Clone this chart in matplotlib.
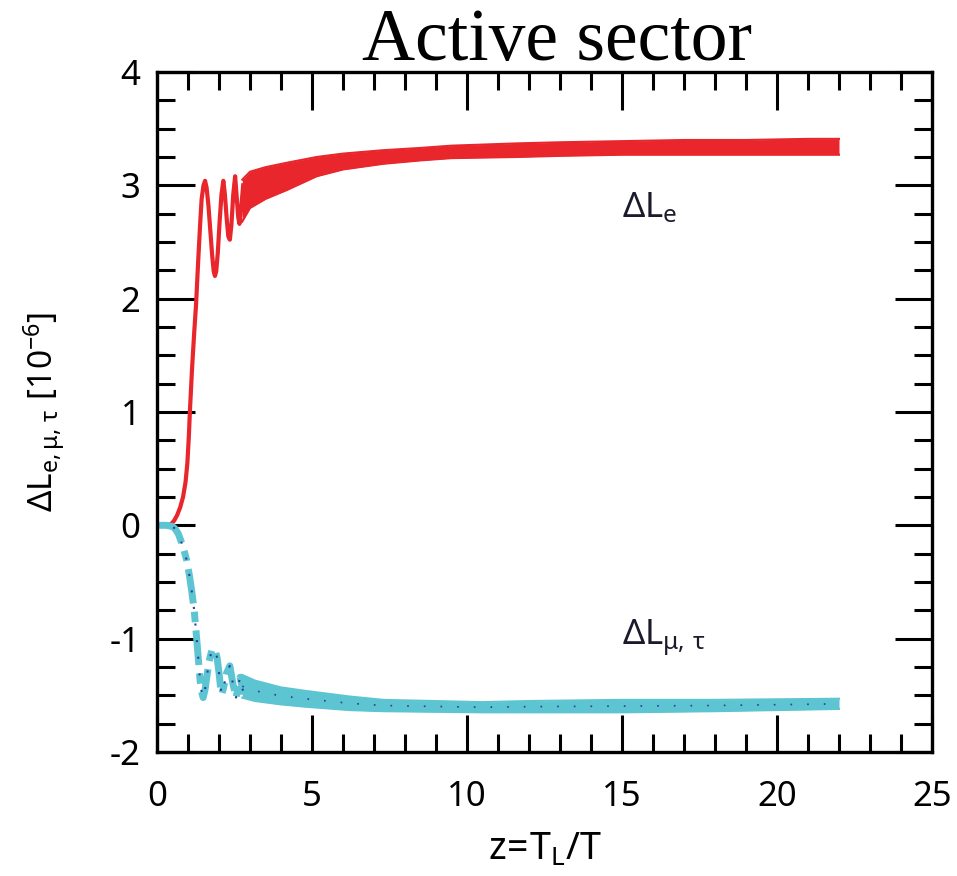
import numpy as np
import matplotlib
matplotlib.use("Agg")
import matplotlib.pyplot as plt
from matplotlib.ticker import MultipleLocator

plt.rcParams['font.family'] = ['Noto Sans', 'DejaVu Sans']
plt.rcParams['mathtext.fontset'] = 'custom'
plt.rcParams['mathtext.rm'] = 'Noto Sans'
plt.rcParams['mathtext.it'] = 'Noto Sans:italic'
plt.rcParams['mathtext.bf'] = 'Noto Sans:bold'
plt.rcParams['axes.unicode_minus'] = False

# Delta L_e : early oscillating part
z_e = [0, 0.3, 0.45, 0.55, 0.65, 0.75, 0.84, 0.92, 0.98, 1.03, 1.06, 1.13, 1.2, 1.26,
       1.33, 1.39, 1.44, 1.5, 1.55, 1.6, 1.66, 1.72, 1.78, 1.83, 1.87, 1.91, 1.96, 2.02,
       2.08, 2.14, 2.19, 2.25, 2.3, 2.35, 2.4, 2.46, 2.52, 2.57, 2.62, 2.66, 2.7, 2.78]
y_e = [0, 0, 0.01, 0.04, 0.09, 0.16, 0.25, 0.38, 0.55, 0.8, 1.0, 1.38, 1.7, 1.95,
       2.34, 2.65, 2.88, 3.0, 3.04, 2.98, 2.82, 2.6, 2.38, 2.24, 2.2, 2.24, 2.4, 2.68,
       2.92, 3.04, 2.92, 2.7, 2.55, 2.52, 2.65, 2.92, 3.08, 2.9, 2.72, 2.66, 2.75, 3.0]
# Delta L_e : noisy band (upper / lower edge)
z_e_band = [2.75, 3.0, 3.5, 4.2, 5.15, 6.0, 7.3, 8.5, 9.5, 11.6, 13.0, 15.0, 17.0, 19.0, 21.0, 22.0]
e_upper = [3.05, 3.12, 3.16, 3.2, 3.25, 3.28, 3.31, 3.33, 3.35, 3.37, 3.38, 3.39, 3.4, 3.4, 3.41, 3.41]
e_lower = [2.68, 2.8, 2.88, 2.96, 3.08, 3.14, 3.19, 3.22, 3.24, 3.25, 3.26, 3.27, 3.27, 3.27, 3.27, 3.27]

# Delta L_mu,tau : early oscillating part
z_mu = [0, 0.3, 0.5, 0.58, 0.68, 0.75, 0.85, 0.96, 1.05, 1.12, 1.2, 1.28, 1.34, 1.39,
        1.44, 1.49, 1.55, 1.61, 1.68, 1.77, 1.87, 1.94, 2.0, 2.05, 2.09, 2.15, 2.25,
        2.35, 2.45, 2.55, 2.62, 2.68, 2.74, 2.8]
y_mu = [0, 0, -0.01, -0.03, -0.07, -0.12, -0.2, -0.31, -0.45, -0.58, -0.75, -1.0, -1.2, -1.37,
        -1.47, -1.52, -1.45, -1.33, -1.2, -1.1, -1.09, -1.17, -1.3, -1.43, -1.49, -1.43, -1.3,
        -1.24, -1.4, -1.52, -1.42, -1.34, -1.42, -1.49]
# Delta L_mu,tau : noisy band
z_mu_band = [2.75, 3.16, 4.0, 4.77, 6.2, 7.3, 10.5, 12.0, 15.0, 18.0, 22.0]
mu_upper = [-1.32, -1.37, -1.43, -1.46, -1.51, -1.54, -1.56, -1.55, -1.54, -1.54, -1.53]
mu_lower = [-1.52, -1.55, -1.58, -1.6, -1.63, -1.64, -1.65, -1.65, -1.65, -1.64, -1.62]

red = '#e8262b'
cyan = '#5dc5d1'
navy = '#2a3d9a'

fig = plt.figure(figsize=(9.57, 8.76), dpi=100)
ax = fig.add_axes([157 / 957, 1 - 752 / 876, 775 / 957, 680 / 876])

# red curve
ax.plot(z_e, y_e, color=red, lw=3)
ax.fill_between(z_e_band, e_lower, e_upper, color=red, lw=0)
ax.plot(z_e_band, e_upper, color=red, lw=1.5)
ax.plot(z_e_band, e_lower, color=red, lw=1.5)

# cyan / navy curves
ax.plot(z_mu, y_mu, color=cyan, lw=5, ls=(0, (5, 1.2, 1.5, 1.2)))
ax.fill_between(z_mu_band, mu_lower, mu_upper, color=cyan, lw=0)
ax.plot(z_mu_band, mu_upper, color=cyan, lw=1.5)
ax.plot(z_mu_band, mu_lower, color=cyan, lw=1.5)
ax.plot(z_mu, y_mu, color=navy, lw=1.5, ls=(0, (1, 7)))
mid = [(a + b) / 2 for a, b in zip(mu_upper, mu_lower)]
ax.plot(z_mu_band, mid, color=navy, lw=1.2, ls=(0, (1, 9)))

ax.text(15.0, 2.72, r'$\mathrm{ΔL_e}$', fontsize=25, color='#1a1a2a', va='baseline')
ax.text(15.0, -1.06, r'$\mathrm{ΔL_{μ,\,τ}}$', fontsize=25, color='#1a1a2a', va='baseline')

ax.set_xlim(0, 25)
ax.set_ylim(-2, 4)
ax.xaxis.set_major_locator(MultipleLocator(5))
ax.xaxis.set_minor_locator(MultipleLocator(1))
ax.yaxis.set_major_locator(MultipleLocator(1))
ax.yaxis.set_minor_locator(MultipleLocator(0.25))
ax.tick_params(which='both', direction='in', top=True, right=True, width=2.2, labelsize=25)
ax.tick_params(which='major', length=27)
ax.tick_params(which='minor', length=13)
ax.tick_params(axis='x', pad=20)
ax.tick_params(axis='y', pad=12)
for s in ax.spines.values():
    s.set_linewidth(2.4)

ax.set_xlabel(r'$\mathrm{z\!=\!T_L/T}$', fontsize=27, labelpad=12)
ax.set_ylabel(r'$\mathrm{ΔL_{e,μ,\,τ}\ [10^{-6}]}$', fontsize=24)
ax.yaxis.set_label_coords(-0.116, 0.5)

fig.text(557 / 957, 1 - 60 / 876, 'Active sector', family='Liberation Serif',
         fontsize=53, ha='center', va='baseline')

fig.savefig('out.png', dpi=100)
